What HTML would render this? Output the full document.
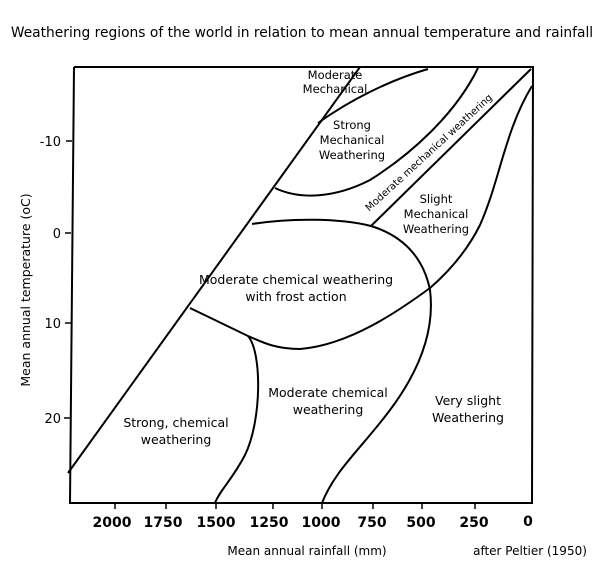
<!DOCTYPE html>
<html><head><style>
body{margin:0;background:#fff;width:600px;height:566px;overflow:hidden}
svg text{font-family:"DejaVu Sans","Liberation Sans",sans-serif;fill:#000}
</style></head><body>
<svg width="600" height="566" viewBox="0 0 600 566" xmlns="http://www.w3.org/2000/svg">
<text x="302" y="37" font-size="13.8" text-anchor="middle">Weathering regions of the world in relation to mean annual temperature and rainfall</text>
<g fill="none" stroke="#000" stroke-width="2">
<path d="M74,67 L533,67 L532,503 L70,503 L74,67"/>
<path d="M68,473 L360,67"/>
<path d="M318,123 C350,100 390,80 428,69"/>
<path d="M275,188 C300,200 335,198 370,180 C410,155 455,115 478,68"/>
<path d="M371,226 L531,69"/>
<path d="M532,86 C505,130 500,180 480,225 C465,255 445,275 430,288 C400,310 350,345 300,349 C275,349 262,342 248,336 L190,308"/>
<path d="M252,224 C290,218 340,218 371,226 C410,238 425,265 430,290 C435,330 420,370 390,410 C360,450 335,470 322,503"/>
<path d="M248,336 C262,352 262,420 245,455 C232,480 220,490 215,503"/>
</g>
<g stroke="#000" stroke-width="1.5">
<line x1="66" y1="141" x2="72" y2="141"/><line x1="65" y1="233" x2="71" y2="233"/>
<line x1="65" y1="323" x2="71" y2="323"/><line x1="64" y1="418" x2="70" y2="418"/>
<line x1="115" y1="503" x2="115" y2="509"/><line x1="166" y1="503" x2="166" y2="509"/>
<line x1="216" y1="503" x2="216" y2="509"/><line x1="273" y1="503" x2="273" y2="509"/>
<line x1="322" y1="503" x2="322" y2="509"/><line x1="373" y1="503" x2="373" y2="509"/>
<line x1="422" y1="503" x2="422" y2="509"/><line x1="475" y1="503" x2="475" y2="509"/>
</g>
<g font-size="13" text-anchor="end">
<text x="61" y="146">-10</text><text x="61" y="238">0</text><text x="61" y="328">10</text><text x="61" y="423">20</text>
</g>
<g font-size="14" font-weight="bold" text-anchor="middle">
<text x="112" y="527">2000</text><text x="163" y="527">1750</text><text x="216" y="527">1500</text>
<text x="269" y="527">1250</text><text x="321" y="527">1000</text><text x="372" y="527">750</text>
<text x="421" y="527">500</text><text x="474" y="527">250</text><text x="528" y="526">0</text>
</g>
<text x="307" y="555" font-size="12" text-anchor="middle">Mean annual rainfall (mm)</text>
<text x="530" y="555" font-size="12" text-anchor="middle">after Peltier (1950)</text>
<text transform="translate(30,290) rotate(-90)" font-size="12.5" text-anchor="middle">Mean annual temperature (oC)</text>
<g font-size="11.5" text-anchor="middle">
<text x="335" y="79">Moderate</text><text x="335" y="93">Mechanical</text>
<text x="352" y="129">Strong</text><text x="352" y="144">Mechanical</text><text x="352" y="159">Weathering</text>
<text x="436" y="203">Slight</text><text x="436" y="218">Mechanical</text><text x="436" y="233">Weathering</text>
<text x="296" y="284" font-size="12.5">Moderate chemical weathering</text><text x="296" y="301" font-size="12.5">with frost action</text>
<text x="328" y="397" font-size="12.5">Moderate chemical</text><text x="328" y="414" font-size="12.5">weathering</text>
<text x="468" y="405" font-size="12.5">Very slight</text><text x="468" y="422" font-size="12.5">Weathering</text>
<text x="176" y="427" font-size="12.5">Strong, chemical</text><text x="176" y="444" font-size="12.5">weathering</text>
<text transform="translate(431,155) rotate(-42.5)" font-size="10">Moderate mechanical weathering</text>
</g>
</svg>
</body></html>
